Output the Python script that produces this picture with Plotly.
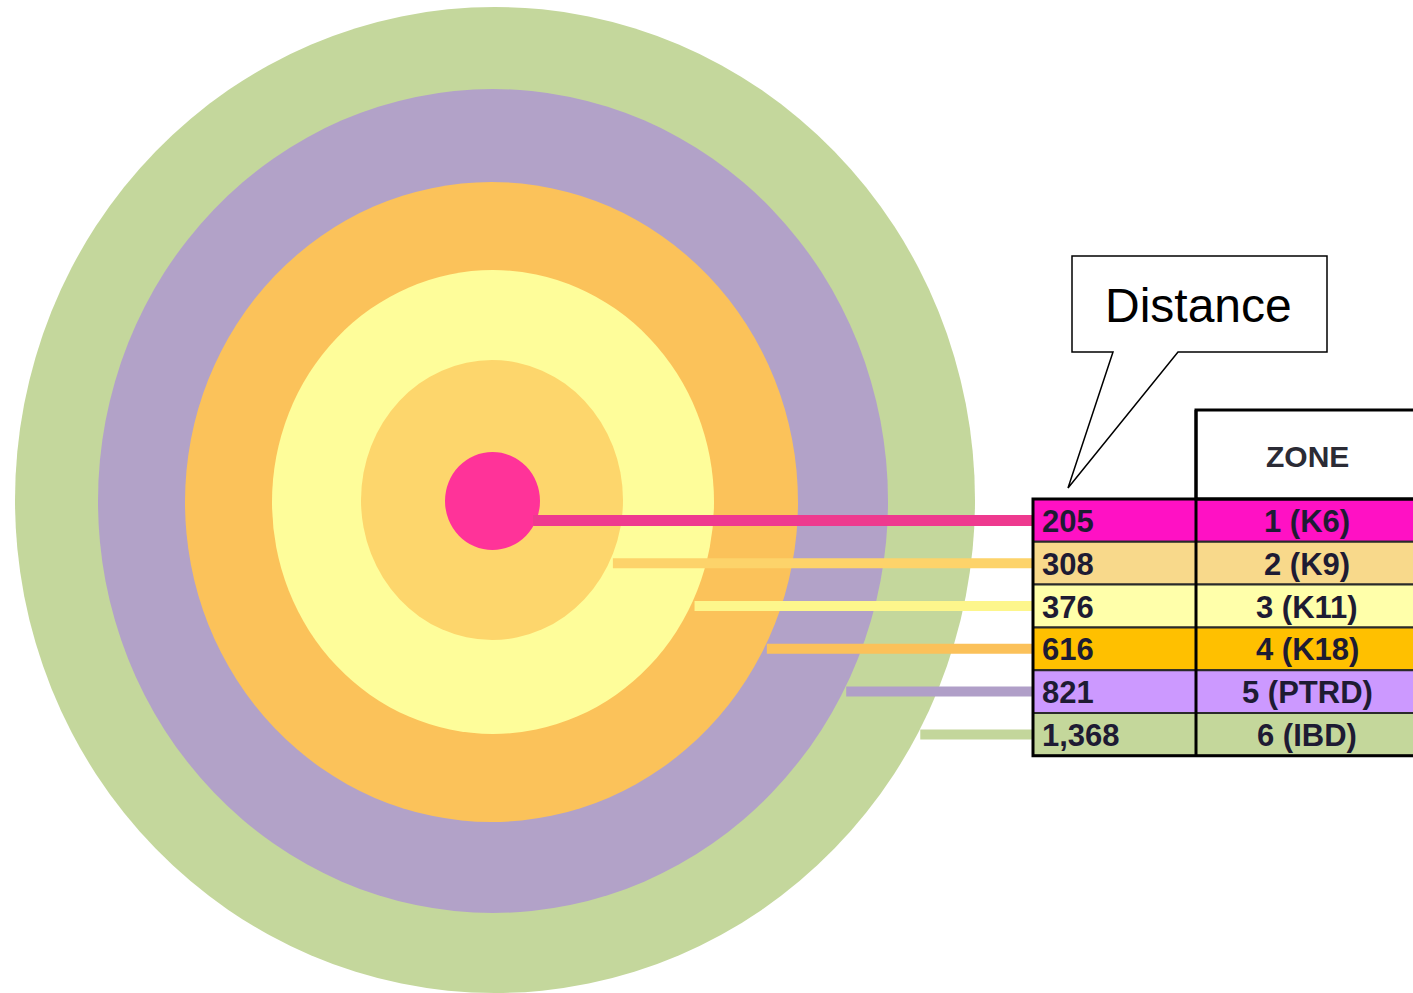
import numpy as np
import plotly.graph_objects as go

# ---- data ----
zones = ["1 (K6)", "2 (K9)", "3 (K11)", "4 (K18)", "5 (PTRD)", "6 (IBD)"]
distances = [205, 308, 376, 616, 821, 1368]
header_label = "ZONE"
callout_label = "Distance"

# ---- styling / layout constants ----
W, H = 1413, 993
ring_colors = ["#FF3399", "#FDD66C", "#FEFD9A", "#FBC25A", "#B2A2C8", "#C4D79C"]
line_colors = ["#EE3A8F", "#FDD36A", "#FDF68C", "#FBC15A", "#B09FC8", "#C3D69B"]
row_colors = ["#FF11C4", "#F8D98B", "#FFFFAA", "#FFC000", "#CC99FF", "#C4D79B"]
# ellipse geometry per zone (center, x radius, y radius), innermost first
ring_cx = [492.5, 492.0, 493.0, 491.5, 493.0, 495.0]
ring_cy = [501.0, 500.0, 502.0, 502.0, 501.0, 500.0]
ring_rx = [47.5, 131.0, 221.0, 306.5, 395.0, 480.0]
ring_ry = [49.0, 140.0, 232.0, 320.0, 412.0, 493.0]
line_widths = [11, 10, 10, 10, 10, 10]
line_start_pad = [-3, 4, 4, 3, 3, 3]

tbl_x0, tbl_xmid, tbl_x1 = 1033, 1196, 1425
hdr_y0, tbl_y0, row_h = 410, 499, 42.8
text_font = "Liberation Sans Narrow, Arial Narrow, Liberation Sans, Arial"
text_color = "#1E1B33"

fig = go.Figure()
shapes = []
annotations = []

# concentric zones, outermost drawn first
for i in reversed(range(len(zones))):
    shapes.append(dict(
        type="circle", xref="x", yref="y", layer="below",
        x0=ring_cx[i] - ring_rx[i], x1=ring_cx[i] + ring_rx[i],
        y0=ring_cy[i] - ring_ry[i], y1=ring_cy[i] + ring_ry[i],
        fillcolor=ring_colors[i], line=dict(width=0),
    ))

# connector lines from each zone's edge to its table row
row_centers = [tbl_y0 + row_h * (k + 0.5) for k in range(len(zones))]
for i, (yc, col) in enumerate(zip(row_centers, line_colors)):
    dy = (yc - ring_cy[i]) / ring_ry[i]
    x_start = ring_cx[i] + ring_rx[i] * np.sqrt(max(0.0, 1 - dy * dy)) + line_start_pad[i]
    fig.add_trace(go.Scatter(
        x=[x_start, tbl_x0], y=[yc, yc], mode="lines",
        line=dict(color=col, width=line_widths[i]),
        hoverinfo="skip", showlegend=False,
    ))

# table rows
for k, (zone, dist) in enumerate(zip(zones, distances)):
    y0 = tbl_y0 + row_h * k
    y1 = y0 + row_h
    for xa, xb in [(tbl_x0, tbl_xmid), (tbl_xmid, tbl_x1)]:
        shapes.append(dict(
            type="rect", xref="x", yref="y", layer="above",
            x0=xa, x1=xb, y0=y0, y1=y1,
            fillcolor=row_colors[k], line=dict(color="#2A2A2A", width=2),
        ))
    annotations.append(dict(
        x=tbl_x0 + 7, y=(y0 + y1) / 2 + 1, xref="x", yref="y",
        text=f"<b>{dist:,}</b>", showarrow=False, xanchor="left", yanchor="middle",
        font=dict(family=text_font, size=31, color=text_color),
    ))
    annotations.append(dict(
        x=1307, y=(y0 + y1) / 2 + 1, xref="x", yref="y",
        text=f"<b>{zone}</b>", showarrow=False, xanchor="center", yanchor="middle",
        font=dict(family=text_font, size=31, color=text_color),
    ))

# table header and outer borders
shapes.append(dict(type="rect", xref="x", yref="y", layer="above",
                   x0=tbl_xmid, x1=tbl_x1, y0=hdr_y0, y1=tbl_y0,
                   fillcolor="white", line=dict(color="black", width=3)))
shapes.append(dict(type="rect", xref="x", yref="y", layer="above",
                   x0=tbl_x0, x1=tbl_x1, y0=tbl_y0, y1=tbl_y0 + row_h * len(zones),
                   fillcolor="rgba(0,0,0,0)", line=dict(color="black", width=3)))
shapes.append(dict(type="line", xref="x", yref="y", layer="above",
                   x0=tbl_xmid, x1=tbl_xmid, y0=hdr_y0, y1=tbl_y0 + row_h * len(zones),
                   line=dict(color="black", width=3)))
annotations.append(dict(
    x=1307, y=(hdr_y0 + tbl_y0) / 2 + 2, xref="x", yref="y",
    text=f"<b>{header_label}</b>", showarrow=False, xanchor="center", yanchor="middle",
    font=dict(family=text_font, size=30, color="#2B2B35"),
))

# speech-bubble callout pointing at the distance column
bx0, bx1, by0, by1 = 1072, 1327, 256, 352
tip_x, tip_y = 1068, 488
shapes.append(dict(
    type="path", xref="x", yref="y", layer="above",
    path=(f"M {bx0},{by0} L {bx1},{by0} L {bx1},{by1} L 1178,{by1} "
          f"L {tip_x},{tip_y} L 1113,{by1} L {bx0},{by1} Z"),
    fillcolor="white", line=dict(color="black", width=1.5),
))
annotations.append(dict(
    x=(bx0 + bx1) / 2 - 1, y=(by0 + by1) / 2 + 1, xref="x", yref="y",
    text=callout_label, showarrow=False, xanchor="center", yanchor="middle",
    font=dict(family="Liberation Sans, Arial", size=48, color="black"),
))

fig.update_layout(
    width=W, height=H, margin=dict(l=0, r=0, t=0, b=0),
    paper_bgcolor="white", plot_bgcolor="white",
    xaxis=dict(range=[0, W], visible=False, fixedrange=True),
    yaxis=dict(range=[H, 0], visible=False, fixedrange=True),
    shapes=shapes, annotations=annotations, showlegend=False,
)

fig.write_html("out.html")
